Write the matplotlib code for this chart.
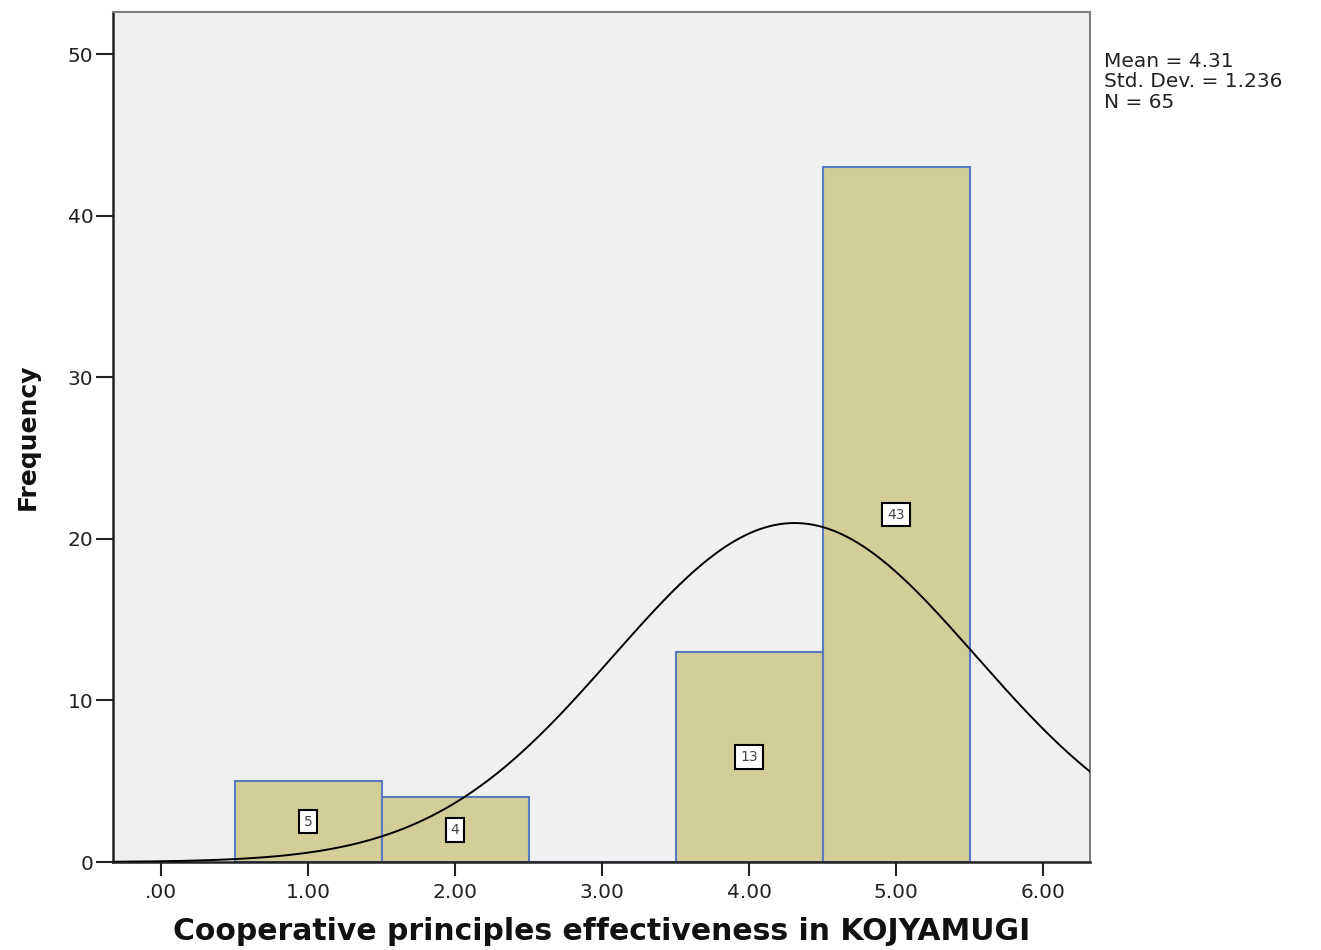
import numpy as np
import matplotlib
matplotlib.use("Agg")
import matplotlib.pyplot as plt

# Histogram of effectiveness scores with fitted normal curve
bin_centers = [1, 2, 3, 4, 5]
counts = [5, 4, 0, 13, 43]
mean = 4.31
std_dev = 1.236
n = 65

plt.rcParams['font.family'] = ['DejaVu Sans']

fig = plt.figure(figsize=(13.21, 9.5), dpi=100)
ax = fig.add_axes([0.0855, 0.0926, 0.7397, 0.8947])
ax.set_facecolor('#f0f0f0')

ax.bar(bin_centers, counts, width=1.0, color='#d3ce97', edgecolor='#5b79c0',
       linewidth=1.5, zorder=2)

# count labels in small boxes at half the bar height
for x, c in zip(bin_centers, counts):
    if c > 0:
        ax.text(x, c / 2, str(c), ha='center', va='center', fontsize=10,
                color='#444444', zorder=4,
                bbox=dict(boxstyle='square,pad=0.35', fc='white', ec='black', lw=1.5))

# normal curve scaled to the counts (bin width 1)
xs = np.linspace(-0.33, 6.33, 400)
ys = n / (std_dev * np.sqrt(2 * np.pi)) * np.exp(-0.5 * ((xs - mean) / std_dev) ** 2)
ax.plot(xs, ys, color='black', lw=1.4, zorder=3)

ax.set_xlim(-0.327, 6.32)
ax.set_ylim(0, 52.6)
ax.set_xticks(range(7))
ax.set_xticklabels(['.00', '1.00', '2.00', '3.00', '4.00', '5.00', '6.00'])
ax.set_yticks([0, 10, 20, 30, 40, 50])
ax.tick_params(axis='both', direction='out', width=1.5, labelsize=14.5,
               colors='#222222')
ax.tick_params(axis='x', length=10, pad=5)
ax.tick_params(axis='y', length=12, pad=2)

for s in ['top', 'right']:
    ax.spines[s].set_color('#808080')
    ax.spines[s].set_linewidth(1.5)
for s in ['left', 'bottom']:
    ax.spines[s].set_color('#222222')
    ax.spines[s].set_linewidth(1.8)

ax.set_xlabel('Cooperative principles effectiveness in KOJYAMUGI', fontsize=21.5,
              fontweight='bold', labelpad=11, color='#111111')
ax.set_ylabel('Frequency', fontsize=18, fontweight='bold', labelpad=20, color='#111111')

fig.text(0.836, 0.945, 'Mean = %.2f\nStd. Dev. = %.3f\nN = %d' % (mean, std_dev, n),
         fontsize=14.5, va='top', ha='left', linespacing=1.08, color='#222222')

fig.savefig('out.png', dpi=100)
